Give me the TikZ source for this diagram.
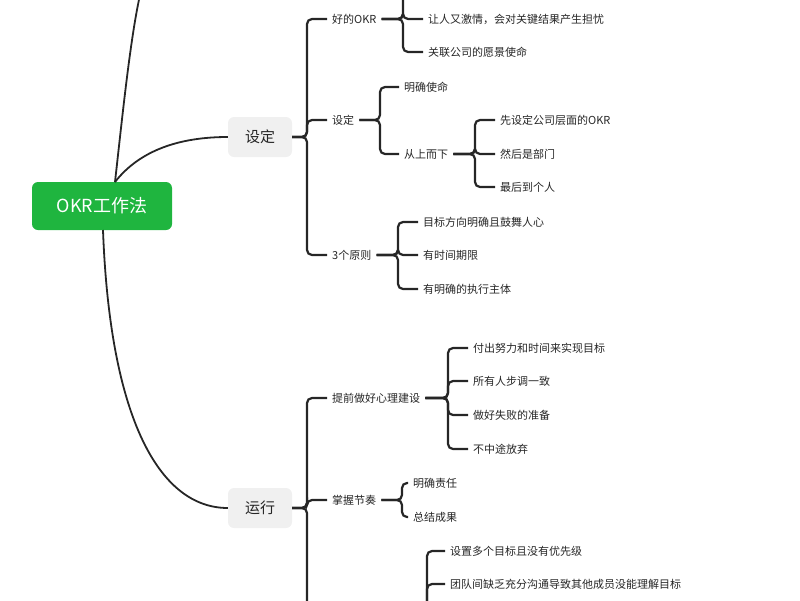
\documentclass[tikz,border=0pt]{standalone}
\usepackage{fontspec}
\setmainfont{Noto Sans CJK SC}
\begin{document}
\begin{tikzpicture}[x=1pt,y=-1pt,
  ln/.style={line width=2.2pt,draw=black!85,rounded corners=5pt},
  cv/.style={line width=1.8pt,draw=black!85},
  lab/.style={anchor=west,inner xsep=5pt,inner ysep=2pt,font=\fontsize{11}{13}\selectfont,text=black!85},
  main/.style={rounded corners=6pt,fill=gray!12,minimum width=64pt,minimum height=40pt,font=\fontsize{15}{18}\selectfont,text=black!85},
  root/.style={rounded corners=6pt,fill=green!60!black!80!lime,minimum width=140pt,minimum height=48pt,font=\fontsize{18}{22}\selectfont,text=white}]
\useasboundingbox (0,0) rectangle (800,600);
\clip (0,0) rectangle (800,600);
\definecolor{okrg}{HTML}{1FB53F}
\node[root,fill=okrg] (r) at (102,206) {OKR工作法};
\node[main] (s) at (260,137) {设定};
\node[main] (y) at (260,508) {运行};
\coordinate (top) at (140,-5);
\draw[cv] (115,182) .. controls (122,120) and (130,40) .. (top);
\draw[cv] (115,182) .. controls (140,150) and (180,137) .. (s.west);
\draw[cv] (103,230) .. controls (110,420) and (160,508) .. (y.west);
% 设定 branch
\node[lab] (a1) at (327,19) {好的OKR};
\node[lab] (a2) at (327,120) {设定};
\node[lab] (a3) at (327,255) {3个原则};
\foreach \n in {a1,a2,a3}{\draw[ln] (s.east) -- (307,137) |- (\n.west);}
\coordinate (a0) at (403,-25);
\node[lab] (a11) at (423,19) {让人又激情，会对关键结果产生担忧};
\node[lab] (a12) at (423,52) {关联公司的愿景使命};
\draw[ln] (a1.east) -- (403,19) -- (a0);
\foreach \n in {a11,a12}{\draw[ln] (a1.east) -- (403,19) |- (\n.west);}
\node[lab] (a21) at (399,87) {明确使命};
\node[lab] (a22) at (399,154) {从上而下};
\foreach \n in {a21,a22}{\draw[ln] (a2.east) -- (380,120) |- (\n.west);}
\node[lab] (a221) at (495,120) {先设定公司层面的OKR};
\node[lab] (a222) at (495,154) {然后是部门};
\node[lab] (a223) at (495,187) {最后到个人};
\foreach \n in {a221,a222,a223}{\draw[ln] (a22.east) -- (475,154) |- (\n.west);}
\node[lab] (a31) at (418,222) {目标方向明确且鼓舞人心};
\node[lab] (a32) at (418,255) {有时间期限};
\node[lab] (a33) at (418,289) {有明确的执行主体};
\foreach \n in {a31,a32,a33}{\draw[ln] (a3.east) -- (398,255) |- (\n.west);}
% 运行 branch
\node[lab] (b1) at (327,398) {提前做好心理建设};
\node[lab] (b2) at (327,500) {掌握节奏};
\coordinate (b3) at (307,630);
\foreach \n in {b1,b2}{\draw[ln] (y.east) -- (307,508) |- (\n.west);}
\draw[ln] (y.east) -- (307,508) -- (b3);
\node[lab] (b11) at (468,348) {付出努力和时间来实现目标};
\node[lab] (b12) at (468,381) {所有人步调一致};
\node[lab] (b13) at (468,415) {做好失败的准备};
\node[lab] (b14) at (468,449) {不中途放弃};
\foreach \n in {b11,b12,b13,b14}{\draw[ln] (b1.east) -- (448,398) |- (\n.west);}
\node[lab] (b21) at (408,483) {明确责任};
\node[lab] (b22) at (408,517) {总结成果};
\foreach \n in {b21,b22}{\draw[ln] (b2.east) -- (402,500) |- (\n.west);}
\coordinate (b3s) at (427,640);
\node[lab] (b31) at (445,551) {设置多个目标且没有优先级};
\node[lab] (b32) at (445,584) {团队间缺乏充分沟通导致其他成员没能理解目标};
\foreach \n in {b31,b32}{\draw[ln] (b3s) -- (427,600) |- (\n.west);}
\end{tikzpicture}
\end{document}
